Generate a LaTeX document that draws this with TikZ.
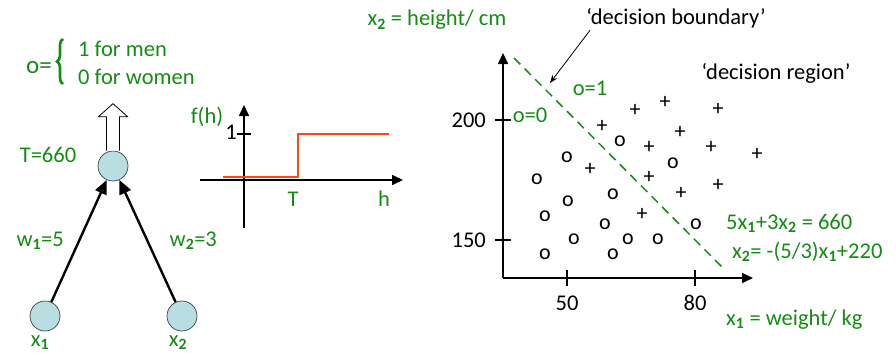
\documentclass[tikz,border=0pt]{standalone}
\usepackage{fontspec}
\setmainfont{Carlito}
\usetikzlibrary{calc, arrows.meta, positioning, decorations.pathreplacing}
\definecolor{textgreen}{RGB}{20,140,20}
\definecolor{stepred}{RGB}{255,70,20}
\definecolor{cellblue}{RGB}{184,222,226}
\newcommand{\subn}[1]{\textsubscript{\bfseries #1}}

\begin{document}
\begin{tikzpicture}[x=1pt, y=-1pt,
  every node/.style={font=\fontsize{22.5}{25}\selectfont, inner sep=0pt},
  lbl/.style={text=textgreen},
  cell/.style={draw=black!75, fill=cellblue, circle, minimum size=30pt, line width=0.7pt},
  weight/.style={line width=2.4pt, -{Triangle[length=14pt, width=12pt]}},
  axis/.style={line width=1.6pt, -{Triangle[length=11pt, width=10pt]}},
  tick/.style={line width=1.4pt},
  pt/.style={font=\fontsize{22}{25}\selectfont}
]
\useasboundingbox (0,0) rectangle (896,353);
% --- neuron
\node[cell] (out) at (113,166) {};
\node[cell] (xa) at (45,316) {};
\node[cell] (xb) at (182,316) {};
\node[lbl] (xalab) at (40,343) {x\subn{1}};
\node[lbl] (xblab) at (178,343) {x\subn{2}};
\draw[weight] (xa) -- node[lbl, left=14pt] (wa) {w\subn{1}=5} (out);
\draw[weight] (xb) -- node[lbl, right=21pt] (wb) {w\subn{2}=3} (out);
\node[lbl] (thr) at (48,155) {T=660};
\draw[fill=white, line width=0.8pt]
  ($(out.north)+(-6.5,0)$) -- ++(0,-34) -- ++(-8,0) -- ($(out.north)+(0,-47)$)
  -- ($(out.north)+(14.5,-34)$) -- ++(-8,0) -- ($(out.north)+(6.5,0)$);
\node[lbl, font=\fontsize{25}{28}\selectfont] (oeq) at (39,68) {o=};
\draw[textgreen, line width=2.6pt, decorate, decoration={brace, amplitude=6pt}]
  (63,84) -- (63,39);
\node[lbl, anchor=west] (men) at (78,49) {1 for men};
\node[lbl, anchor=west] (women) at (78,77) {0 for women};
% --- step function
\coordinate (fl) at (200,180);
\coordinate (fr) at (403,180);
\coordinate (fb) at (244,228);
\coordinate (ft) at (244,105);
\draw[axis] (fl) -- (fr);
\draw[axis] (fb) -- (ft);
\draw[tick] (237,134) -- (251,134);
\node (one) at (231,132) {1};
\draw[stepred, line width=1.6pt] (223,177) -- (298,177) -- (298,134) -- (389,134);
\node[lbl] (fh) at (207,117) {f(h)};
\node[lbl] (tlab) at (293,199) {T};
\node[lbl] (hlab) at (384,199) {h};
% --- decision plot
\coordinate (org) at (503,278);
\coordinate (ytop) at (503,53);
\coordinate (xend) at (753,278);
\draw[axis] (org) -- (ytop);
\draw[axis] (org) -- (xend);
\foreach \ty/\tv in {120/200, 240/150}{
  \draw[tick] (495,\ty) -- (511,\ty);
  \node[anchor=east] (y\tv) at (486,\ty) {\tv};
}
\foreach \tx/\tv in {567/50, 695/80}{
  \draw[tick] (\tx,270) -- (\tx,286);
  \node (x\tv) at (\tx,303) {\tv};
}
\coordinate (da) at (514,58);
\coordinate (db) at (725,270);
\draw[textgreen, line width=1.5pt, dash pattern=on 9pt off 6pt] (da) -- (db);
\foreach \px/\py [count=\i] in {635/110, 665/102, 718/109, 602/126, 680/132, 649/147,
    711/147, 757/154, 590/169, 649/177, 718/185, 681/193, 642/214}
  \node[pt] (plus\i) at (\px,\py) {+};
\foreach \px/\py [count=\i] in {620/141, 567/157, 673/163, 537/179, 568/201, 613/194,
    545/216, 605/224, 696/224, 574/239, 628/239, 658/239, 545/254, 613/254}
  \node[pt] (zero\i) at (\px,\py) {o};
\node[lbl] (ylab) at (437,20) {x\subn{2} = height/ cm};
\node (bnd) at (676,18) {`decision boundary'};
\coordinate (bndtip) at (550,83);
\draw[-{Stealth[length=8pt, width=6pt]}, line width=0.8pt] ($(bnd.south west)+(4,2)$) -- (bndtip);
\node (reg) at (776,73) {`decision region'};
\node[lbl] (o1) at (590,88) {o=1};
\node[lbl] (o0) at (530,115) {o=0};
\node[lbl, anchor=west] (eqa) at (726,223) {5x\subn{1}+3x\subn{2} = 660};
\node[lbl, anchor=west] (eqb) at (732,252) {x\subn{2}= -(5/3)x\subn{1}+220};
\node[lbl, anchor=west] (xlab) at (726,320) {x\subn{1} = weight/ kg};
\end{tikzpicture}
\end{document}
